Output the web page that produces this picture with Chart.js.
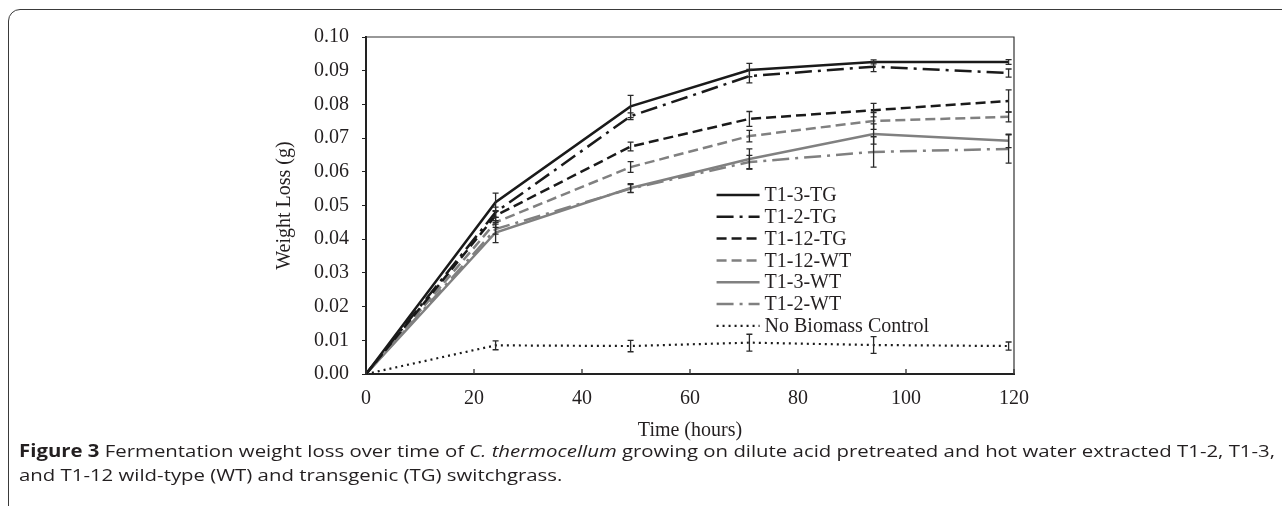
<!DOCTYPE html>
<html>
<head>
<meta charset="utf-8">
<script src="https://cdn.jsdelivr.net/npm/chart.js@4/dist/chart.umd.min.js"></script>
<style>
  html, body { margin: 0; padding: 0; background: #fff; overflow: hidden; }
  body { width: 1282px; height: 506px; position: relative; }
  #frame {
    position: absolute; left: 8px; top: 9px; width: 1400px; height: 700px;
    border: 1.5px solid #3a3a3a; border-radius: 12px; box-sizing: border-box;
  }
  #wrap { position: absolute; left: 0; top: 0; width: 1282px; height: 445px; }
  #caption {
    position: absolute; left: 19px; top: 439px; color: #231f20;
    font-family: "Open Sans", sans-serif; font-size: 17px; font-weight: 500; line-height: 23.5px;
    white-space: nowrap; transform-origin: 0 0;
  }
  #caption b { font-weight: 700; }
</style>
</head>
<body>
<div id="frame"></div>
<div id="wrap"><canvas id="chart" width="1282" height="445"></canvas></div>
<div id="caption"><div id="cap1"><b>Figure 3</b> Fermentation weight loss over time of <i>C. thermocellum</i> growing on dilute acid pretreated and hot water extracted T1-2, T1-3,</div><div>and T1-12 wild-type (WT) and transgenic (TG) switchgrass.</div></div>
<script>
// sampling times (hours)
const hours = [0, 24, 49, 71, 94, 119]

// weight loss (g)
const t13tg = [0, 0.051, 0.0794, 0.0902, 0.0926, 0.0926]
const t12tg = [0, 0.048, 0.0765, 0.0884, 0.0912, 0.0893]
const t112tg = [0, 0.047, 0.0675, 0.0757, 0.0783, 0.0810]
const t112wt = [0, 0.045, 0.0614, 0.0706, 0.0751, 0.0763]
const t13wt = [0, 0.042, 0.0552, 0.0638, 0.0712, 0.0692]
const t12wt = [0, 0.043, 0.0550, 0.0629, 0.0659, 0.0668]
const noBio = [0, 0.0085, 0.0083, 0.0093, 0.0086, 0.0083]

// error bar half widths (g)
const t13tgErr = [0, 0.0027, 0.0033, 0.0020, 0.0006, 0.0007]
const t12tgErr = [0, 0.0015, 0.0010, 0.0020, 0.0015, 0.0012]
const t112tgErr = [0, 0.0015, 0.0013, 0.0022, 0.0020, 0.0033]
const t112wtErr = [0, 0.0015, 0.0016, 0.0017, 0.0025, 0.0015]
const t13wtErr = [0, 0.0030, 0.0013, 0.0030, 0.0030, 0.0020]
const t12wtErr = [0, 0.0015, 0.0012, 0.0020, 0.0045, 0.0042]
const noBioErr = [0, 0.0013, 0.0017, 0.0025, 0.0025, 0.0012]

const yTicks = [0, 0.01, 0.02, 0.03, 0.04, 0.05, 0.06, 0.07, 0.08, 0.09, 0.10]

const black = '#1a1a1a'
const grey = '#808080'
const ink = '#231f20'
const serif = '"Liberation Serif", "Times New Roman", serif'

function series(label, values, errors, color, dash, width) {
    return {
        label: label,
        data: hours.map((h, i) => ({ x: h, y: values[i] })),
        errors: errors,
        borderColor: color,
        backgroundColor: color,
        borderDash: dash,
        borderWidth: width,
        pointRadius: 0,
        tension: 0,
        fill: false
    }
}

const datasets = [
    series('T1-3-TG', t13tg, t13tgErr, black, [], 2.5),
    series('T1-2-TG', t12tg, t12tgErr, black, [17, 6, 3, 6], 2.5),
    series('T1-12-TG', t112tg, t112tgErr, black, [10, 5], 2.5),
    series('T1-12-WT', t112wt, t112wtErr, grey, [10, 5], 2.5),
    series('T1-3-WT', t13wt, t13wtErr, grey, [], 2.5),
    series('T1-2-WT', t12wt, t12wtErr, grey, [17, 6, 3, 6], 2.5),
    series('No Biomass Control', noBio, noBioErr, black, [2, 4], 2.2)
]

// error bars, plot frame, inward x ticks and the legend inside the plot
const extras = {
    id: 'extras',
    afterDatasetsDraw(chart) {
        const ctx = chart.ctx
        const x = chart.scales.x
        const y = chart.scales.y
        const area = chart.chartArea
        ctx.save()
        ctx.strokeStyle = '#2a2a2a'
        ctx.lineWidth = 1.3
        ctx.setLineDash([])
        chart.data.datasets.forEach(ds => {
            ds.data.forEach((p, i) => {
                const e = ds.errors[i]
                if (!e) return
                const px = x.getPixelForValue(p.x)
                const top = y.getPixelForValue(p.y + e)
                const bot = y.getPixelForValue(p.y - e)
                ctx.beginPath()
                ctx.moveTo(px, top); ctx.lineTo(px, bot)
                ctx.moveTo(px - 3, top); ctx.lineTo(px + 3, top)
                ctx.moveTo(px - 3, bot); ctx.lineTo(px + 3, bot)
                ctx.stroke()
            })
        })

        // frame
        ctx.strokeStyle = '#333'
        ctx.lineWidth = 1.2
        ctx.beginPath()
        ctx.moveTo(area.left, area.top); ctx.lineTo(area.right, area.top); ctx.lineTo(area.right, area.bottom)
        ctx.stroke()

        // x ticks pointing inward
        ctx.lineWidth = 1.3
        x.ticks.forEach(t => {
            const px = x.getPixelForValue(t.value)
            ctx.beginPath()
            ctx.moveTo(px, area.bottom); ctx.lineTo(px, area.bottom - 5)
            ctx.stroke()
        })

        // legend
        const lx = area.left + (area.right - area.left) * 0.541
        let ly = area.top + 158
        ctx.font = '20px ' + serif
        ctx.fillStyle = ink
        ctx.textBaseline = 'middle'
        chart.data.datasets.forEach(ds => {
            ctx.strokeStyle = ds.borderColor
            ctx.lineWidth = ds.borderWidth
            ctx.setLineDash(ds.borderDash)
            ctx.beginPath()
            ctx.moveTo(lx, ly); ctx.lineTo(lx + 43, ly)
            ctx.stroke()
            ctx.fillText(ds.label, lx + 48, ly + 1)
            ly += 21.8
        })
        ctx.restore()
    }
}

const tickFont = { family: serif, size: 20 }

new Chart(document.querySelector('#chart').getContext('2d'), {
    type: 'line',
    data: { datasets: datasets },
    options: {
        responsive: false,
        animation: false,
        devicePixelRatio: 1,
        layout: { padding: { left: 250, right: 268, top: 37, bottom: 0 } },
        plugins: { legend: { display: false }, tooltip: { enabled: false } },
        scales: {
            x: {
                type: 'linear',
                min: 0,
                max: 120,
                afterFit: s => { s.height = 71 },
                ticks: { stepSize: 20, padding: 13, color: ink, font: tickFont },
                grid: { drawOnChartArea: false, drawTicks: false },
                border: { color: '#222', width: 2 },
                title: { display: true, text: 'Time (hours)', color: ink, font: tickFont, padding: { top: 0, bottom: 2 } }
            },
            y: {
                min: 0,
                max: 0.10,
                afterFit: s => { s.width = 116 },
                afterBuildTicks: s => { s.ticks = yTicks.map(v => ({ value: v })) },
                ticks: { padding: 13, color: ink, font: tickFont, callback: v => v.toFixed(2) },
                grid: { drawOnChartArea: false, drawTicks: true, tickLength: 4, color: '#222' },
                border: { color: '#222', width: 2 },
                title: { display: true, text: 'Weight Loss (g)', color: ink, font: tickFont, padding: { top: 23, bottom: 0 } }
            }
        }
    },
    plugins: [extras]
})

// stretch the caption's first line to the same width as in the figure
const cap = document.querySelector('#caption')
const w = document.querySelector('#cap1').getBoundingClientRect().width
cap.style.transform = 'scaleX(' + (1256 / w) + ')'
</script>
</body>
</html>
